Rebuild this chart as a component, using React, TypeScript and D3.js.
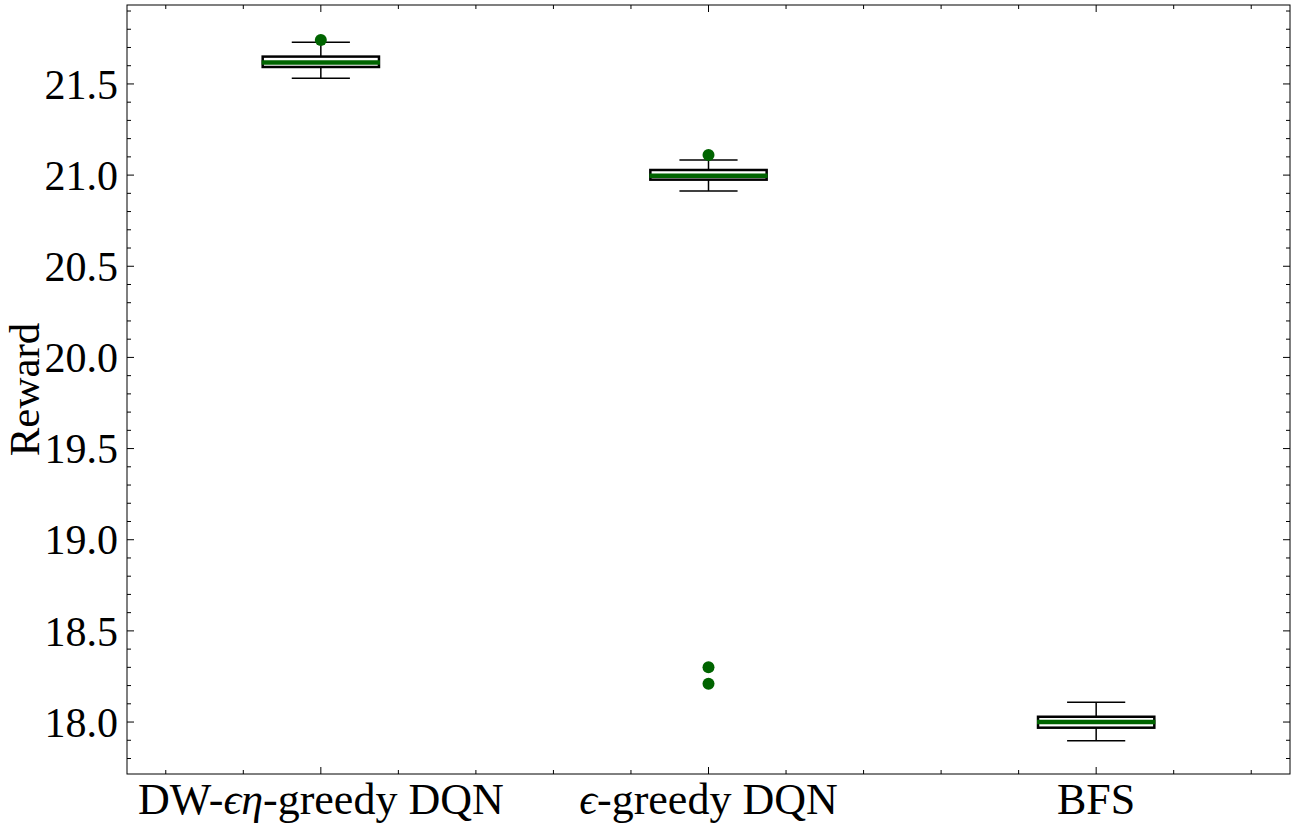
import { useEffect, useRef } from "react";
import * as d3 from "d3";

const categories = ["DW-ϵη-greedy DQN", "ϵ-greedy DQN", "BFS"];
const whiskerLow = [21.531, 20.913, 17.898];
const q1 = [21.593, 20.975, 17.969];
const median = [21.617, 20.997, 18.0];
const q3 = [21.65, 21.028, 18.029];
const whiskerHigh = [21.729, 21.083, 18.108];
const outliers = [[21.741], [21.11, 18.3, 18.21], []];
const yTicks = [18.0, 18.5, 19.0, 19.5, 20.0, 20.5, 21.0, 21.5];

const W = 1295;
const H = 824;
const margin = { left: 127, right: 5, top: 5, bottom: 50 };
const FONT = "Liberation Serif, DejaVu Serif, serif";

const BoxChart = () => {
  const svgRef = useRef<SVGSVGElement | null>(null);

  useEffect(() => {
    const svg = d3.select(svgRef.current);
    svg.selectAll("*").remove();

    const x = d3
      .scaleLinear()
      .domain([0.5, 3.5])
      .range([margin.left, W - margin.right]);
    const y = d3
      .scaleLinear()
      .domain([17.715, 21.933])
      .range([H - margin.bottom, margin.top]);

    const x0 = margin.left;
    const x1 = W - margin.right;
    const y0 = margin.top;
    const y1 = H - margin.bottom;

    // ticks (inward, all four sides)
    const ticks = svg.append("g").attr("stroke", "#000").attr("stroke-width", 1);
    const xMajor = [1, 2, 3];
    const xMinor = d3.range(0.6, 3.41, 0.2).filter((v) => !xMajor.some((m) => Math.abs(m - v) < 1e-6));
    const yMinor = d3.range(17.8, 21.91, 0.1).filter((v) => !yTicks.some((m) => Math.abs(m - v) < 1e-6));

    xMajor.forEach((v) => {
      ticks.append("line").attr("x1", x(v)).attr("x2", x(v)).attr("y1", y1).attr("y2", y1 - 7);
      ticks.append("line").attr("x1", x(v)).attr("x2", x(v)).attr("y1", y0).attr("y2", y0 + 7);
    });
    xMinor.forEach((v) => {
      ticks.append("line").attr("x1", x(v)).attr("x2", x(v)).attr("y1", y1).attr("y2", y1 - 4);
      ticks.append("line").attr("x1", x(v)).attr("x2", x(v)).attr("y1", y0).attr("y2", y0 + 4);
    });
    yTicks.forEach((v) => {
      ticks.append("line").attr("x1", x0).attr("x2", x0 + 7).attr("y1", y(v)).attr("y2", y(v));
      ticks.append("line").attr("x1", x1).attr("x2", x1 - 7).attr("y1", y(v)).attr("y2", y(v));
    });
    yMinor.forEach((v) => {
      ticks.append("line").attr("x1", x0).attr("x2", x0 + 4).attr("y1", y(v)).attr("y2", y(v));
      ticks.append("line").attr("x1", x1).attr("x2", x1 - 4).attr("y1", y(v)).attr("y2", y(v));
    });

    // frame
    svg
      .append("rect")
      .attr("x", x0)
      .attr("y", y0)
      .attr("width", x1 - x0)
      .attr("height", y1 - y0)
      .attr("fill", "none")
      .attr("stroke", "#000")
      .attr("stroke-width", 1);

    // y tick labels
    svg
      .append("g")
      .selectAll("text")
      .data(yTicks)
      .enter()
      .append("text")
      .attr("x", x0 - 9)
      .attr("y", (d) => y(d))
      .attr("dy", "0.35em")
      .attr("text-anchor", "end")
      .style("font-family", FONT)
      .attr("font-size", 42)
      .text((d) => d.toFixed(1));

    // x tick labels
    const xl = svg
      .append("g")
      .selectAll("text")
      .data(categories)
      .enter()
      .append("text")
      .attr("x", (d, i) => x(i + 1))
      .attr("y", y1 + 40)
      .attr("text-anchor", "middle")
      .style("font-family", FONT)
      .attr("font-size", 44);
    xl.each(function (d) {
      const t = d3.select(this);
      d.split(/([ϵη])/).forEach((part) => {
        if (!part) return;
        const span = t.append("tspan").text(part);
        if (part === "ϵ" || part === "η") span.attr("font-style", "italic");
      });
    });

    // y axis title
    svg
      .append("text")
      .attr("transform", `translate(39, ${(y0 + y1) / 2}) rotate(-90)`)
      .attr("text-anchor", "middle")
      .style("font-family", FONT)
      .attr("font-size", 43)
      .text("Reward");

    // boxes
    const bw = x(1.3) - x(1);
    const cw = bw / 2;
    categories.forEach((c, i) => {
      const cx = x(i + 1);
      const g = svg.append("g");
      g.append("line")
        .attr("x1", cx).attr("x2", cx)
        .attr("y1", y(whiskerLow[i])).attr("y2", y(q1[i]))
        .attr("stroke", "#000").attr("stroke-width", 1.5);
      g.append("line")
        .attr("x1", cx).attr("x2", cx)
        .attr("y1", y(whiskerHigh[i])).attr("y2", y(q3[i]))
        .attr("stroke", "#000").attr("stroke-width", 1.5);
      [whiskerLow[i], whiskerHigh[i]].forEach((v) => {
        g.append("line")
          .attr("x1", cx - cw / 2).attr("x2", cx + cw / 2)
          .attr("y1", y(v)).attr("y2", y(v))
          .attr("stroke", "#000").attr("stroke-width", 1.5);
      });
      g.append("rect")
        .attr("x", cx - bw / 2)
        .attr("y", y(q3[i]))
        .attr("width", bw)
        .attr("height", y(q1[i]) - y(q3[i]))
        .attr("fill", "none")
        .attr("stroke", "#000")
        .attr("stroke-width", 2.5);
      g.append("line")
        .attr("x1", cx - bw / 2 - 1).attr("x2", cx + bw / 2 + 1)
        .attr("y1", y(median[i])).attr("y2", y(median[i]))
        .attr("stroke", "#006400").attr("stroke-width", 4.5);
      outliers[i].forEach((v) => {
        g.append("circle")
          .attr("cx", cx)
          .attr("cy", y(v))
          .attr("r", 6)
          .attr("fill", "#006400");
      });
    });
  }, []);

  return <svg ref={svgRef} width={W} height={H} style={{ position: "absolute", left: 0, top: 0, background: "#fff" }}></svg>;
};

export default function App() {
  return <BoxChart />;
}
